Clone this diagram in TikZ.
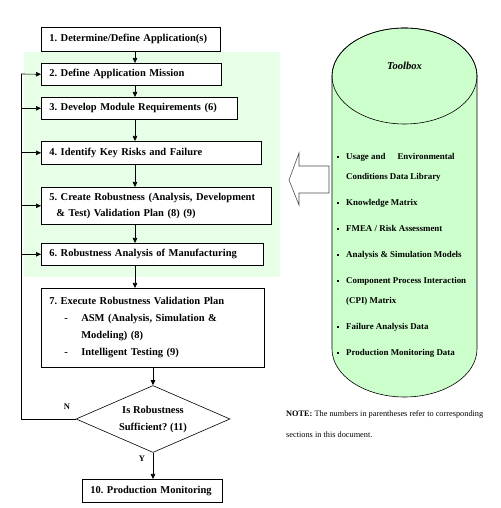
\documentclass[tikz,border=0pt]{standalone}
\usepackage{fontspec}
\setmainfont{Liberation Serif}
\usetikzlibrary{arrows.meta,shapes.geometric}
\definecolor{bggreen}{RGB}{230,255,230}
\definecolor{cylgreen}{RGB}{204,255,204}
\frenchspacing
\begin{document}
\begin{tikzpicture}[x=1pt,y=1pt,
  flowbox/.style={draw, line width=0.6pt, fill=white, anchor=north west, align=left,
    inner xsep=8pt, inner ysep=2pt, font=\fontsize{10.5}{16}\selectfont\bfseries},
  arr/.style={line width=0.6pt, -{Triangle[length=5pt,width=4.5pt]}},
  conn/.style={line width=0.6pt},
  yn/.style={font=\fontsize{8.5}{10}\selectfont\bfseries, inner sep=0pt},
  item/.style={anchor=mid west, inner sep=0pt, font=\fontsize{8.9}{10}\selectfont\bfseries},
  note/.style={anchor=mid west, inner sep=0pt, font=\fontsize{8.3}{10}\selectfont}]
\useasboundingbox (0,0) rectangle (500,508);
% green background
\fill[bggreen] (24,456) rectangle (280,231);
% boxes
\node[flowbox, minimum width=179pt, text width=163pt, minimum height=24pt] (b1) at (41,481) {1. Determine/Define Application(s)};
\node[flowbox, minimum width=180pt, text width=164pt, minimum height=22pt] (b2) at (41,445) {2. Define Application Mission};
\node[flowbox, minimum width=196pt, text width=180pt, minimum height=22pt] (b3) at (41,411) {3. Develop Module Requirements (6)};
\node[flowbox, minimum width=220pt, text width=204pt, minimum height=23pt] (b4) at (41,367) {4. Identify Key Risks and Failure};
\node[flowbox, minimum width=230pt, text width=214pt, minimum height=37pt] (b5) at (41,321) {5. Create Robustness (Analysis, Development\\
\hspace*{7pt}\& Test) Validation Plan (8) (9)};
\node[flowbox, minimum width=222pt, text width=206pt, minimum height=22pt] (b6) at (41,265) {6. Robustness Analysis of Manufacturing};
\node[flowbox, minimum width=223pt, text width=207pt, minimum height=79pt, font=\fontsize{10.5}{17}\selectfont\bfseries] (b7) at (41,220) {7. Execute Robustness Validation Plan\\
\hspace*{15pt}\makebox[17pt][l]{-}ASM (Analysis, Simulation \&\\
\hspace*{32pt}Modeling) (8)\\
\hspace*{15pt}\makebox[17pt][l]{-}Intelligent Testing (9)};
\node[draw, diamond, aspect=2.3, line width=0.6pt, fill=white, minimum width=154pt, minimum height=67pt, inner sep=0pt, align=center, font=\fontsize{10.5}{17}\selectfont\bfseries] (dia) at (153,89) {Is Robustness\\Sufficient? (11)};
\node[flowbox, minimum width=140pt, text width=124pt, minimum height=23pt, inner xsep=8pt] (b10) at (82,29) {10. Production Monitoring};
% main axis
\coordinate (ax) at (135,0);
\draw[arr] (b1.south -| ax) -- (b2.north -| ax);
\draw[arr] (b2.south -| ax) -- (b3.north -| ax);
\draw[arr] (b3.south -| ax) -- (b4.north -| ax);
\draw[arr] (b4.south -| ax) -- (b5.north -| ax);
\draw[arr] (b5.south -| ax) -- (b6.north -| ax);
\draw[arr] (b6.south -| ax) -- (b7.north -| ax);
\draw[arr] (b7.south -| dia.north) -- (dia.north);
\draw[arr] (dia.south) -- (dia.south |- b10.north);
% feedback loop
\coordinate (L) at (21,434);
\draw[conn] (dia.west) -| (L);
\draw[arr] (L) -- (b2.west);
\draw[arr] (b3.west -| L) -- (b3.west);
\draw[arr] (b4.west -| L) -- (b4.west);
\draw[arr] (b5.west -| L) -- (b5.west);
\draw[arr] (b6.west -| L) -- (b6.west);
\node[yn] (n) at (67,101) {N};
\node[yn] (y) at (142,49) {Y};
% hollow arrow
\draw[line width=0.6pt, draw=black!70, fill=white] (289,328) -- (299,355) -- (299,342) -- (329,342) -- (329,315) -- (299,315) -- (299,303) -- cycle;
% cylinder
\path[fill=cylgreen, draw, line width=0.6pt] (332,432) -- (332,159) arc[start angle=180,end angle=360,x radius=72.5,y radius=48] -- (477,432) arc[start angle=0,end angle=180,x radius=72.5,y radius=48] -- cycle;
\draw[line width=0.6pt] (404.5,432) ellipse [x radius=72.5, y radius=48];
\node[font=\fontsize{10.6}{12}\selectfont\bfseries\itshape, inner sep=0pt] (tb) at (404.5,442) {Toolbox};
% list
\foreach \yy in {351,305,279,253,227,181,155} { \fill (337,\yy-1.2) rectangle +(2.4,2.4); }
\node[item] (i1) at (346,351) {Usage and\hspace{12pt}Environmental};
\node[item] (i1b) at (346,331) {Conditions Data Library};
\node[item] (i2) at (346,305) {Knowledge Matrix};
\node[item] (i3) at (346,279) {FMEA / Risk Assessment};
\node[item] (i4) at (346,253) {Analysis \& Simulation Models};
\node[item] (i5) at (346,227) {Component Process Interaction};
\node[item] (i5b) at (346,207) {(CPI) Matrix};
\node[item] (i6) at (346,181) {Failure Analysis Data};
\node[item] (i7) at (346,155) {Production Monitoring Data};
% note
\node[note] (nt1) at (286,94) {\textbf{NOTE:} The numbers in parentheses refer to corresponding};
\node[note] (nt2) at (286,73) {sections in this document.};
\end{tikzpicture}
\end{document}
